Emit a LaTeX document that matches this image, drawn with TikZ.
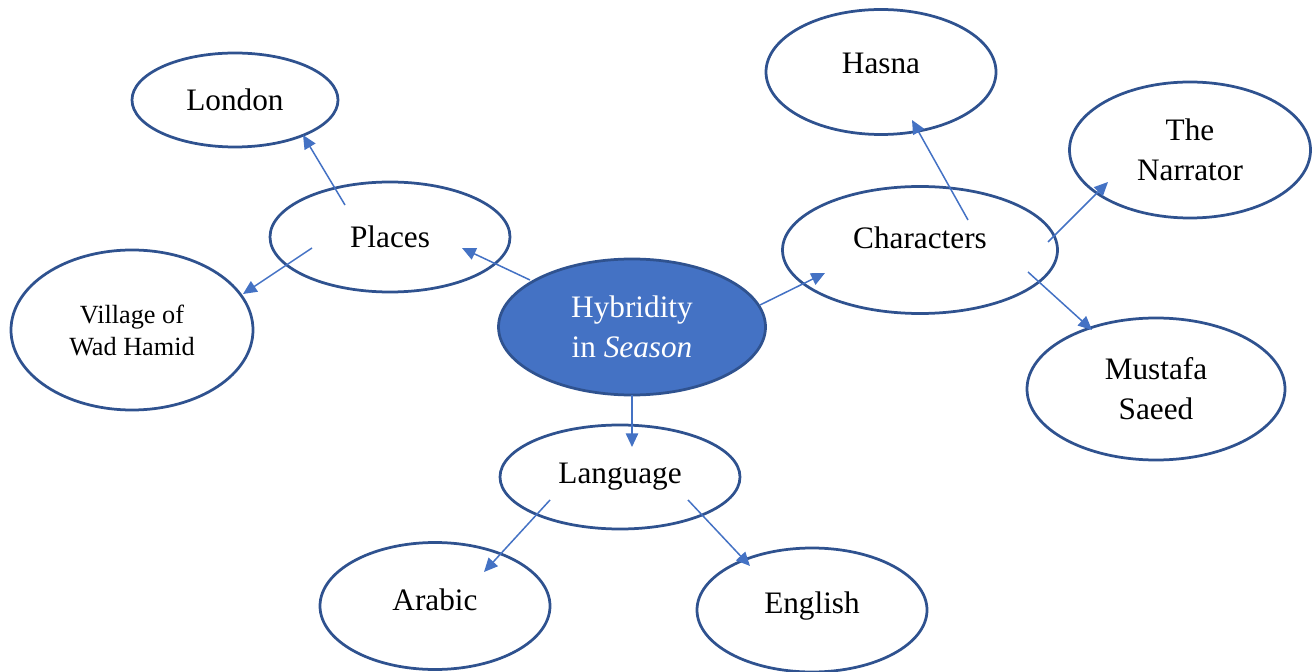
\documentclass[tikz,border=0pt]{standalone}
\usepackage{fontspec}
\setmainfont{Liberation Serif}
\usetikzlibrary{calc,arrows.meta,shapes.geometric}
\definecolor{rimblue}{HTML}{2F528F}
\definecolor{fillblue}{HTML}{4472C4}

\begin{document}
\begin{tikzpicture}[x=0.4pt,y=-0.4pt,conn/.style={draw=fillblue,line width=0.6pt,-{Triangle[length=5.5pt,width=5pt]}},bubble/.style={ellipse,draw=rimblue,line width=1.1pt,inner sep=0pt,align=center,font=\fontsize{12.5}{16}\selectfont},hub/.style={bubble,fill=fillblue,text=white}]
                \useasboundingbox (0,0) rectangle (1313,672);
                \node[hub,minimum width=106.8pt,minimum height=54.4pt] (hyb) at (632,327) {Hybridity\\in \textit{Season}};
                \node[bubble,minimum width=96pt,minimum height=44pt] (places) at (390,237) {Places};
                \node[bubble,minimum width=82.4pt,minimum height=37.6pt] (london) at (235,100) {London};
                \node[bubble,minimum width=96.8pt,minimum height=64pt,font=\fontsize{10.5}{12.8}\selectfont] (village) at (132,330) {Village of\\Wad Hamid};
                \node[bubble,minimum width=96pt,minimum height=41.6pt] (lang) at (620,477) {Language};
                \node[bubble,minimum width=92pt,minimum height=50.8pt,text depth=4.8pt] (arabic) at (435,606) {Arabic};
                \node[bubble,minimum width=92pt,minimum height=49.6pt,text depth=5.9pt] (english) at (812,610) {English};
                \node[bubble,minimum width=110pt,minimum height=50.8pt,text depth=9.6pt] (chars) at (920,250) {Characters};
                \node[bubble,minimum width=92pt,minimum height=50pt,text depth=7.2pt] (hasna) at (881,72) {Hasna};
                \node[bubble,minimum width=96.4pt,minimum height=54.4pt] (narrator) at (1190,150) {The\\Narrator};
                \node[bubble,minimum width=103.2pt,minimum height=56.8pt] (mustafa) at (1156,389) {Mustafa\\Saeed};

                \draw[conn] ($(hyb)+(-102,-47)$) -- ($(places)+(72,11)$);
                \draw[conn] ($(hyb)+(128,-22)$) -- ($(chars)+(-95,23)$);
                \draw[conn] ($(hyb)+(0,68)$) -- ($(lang)+(12,-30)$);
                \draw[conn] ($(places)+(-45,-32)$) -- ($(london)+(68,35)$);
                \draw[conn] ($(places)+(-78,11)$) -- ($(village)+(111,-36)$);
                \draw[conn] ($(lang)+(-70,23)$) -- ($(arabic)+(49,-34)$);
                \draw[conn] ($(lang)+(68,23)$) -- ($(english)+(-62,-44)$);
                \draw[conn] ($(chars)+(48,-30)$) -- ($(hasna)+(31,48)$);
                \draw[conn] ($(chars)+(128,-8)$) -- ($(narrator)+(-82,32)$);
                \draw[conn] ($(chars)+(108,22)$) -- ($(mustafa)+(-64,-59)$);
            \end{tikzpicture}
\end{document}
